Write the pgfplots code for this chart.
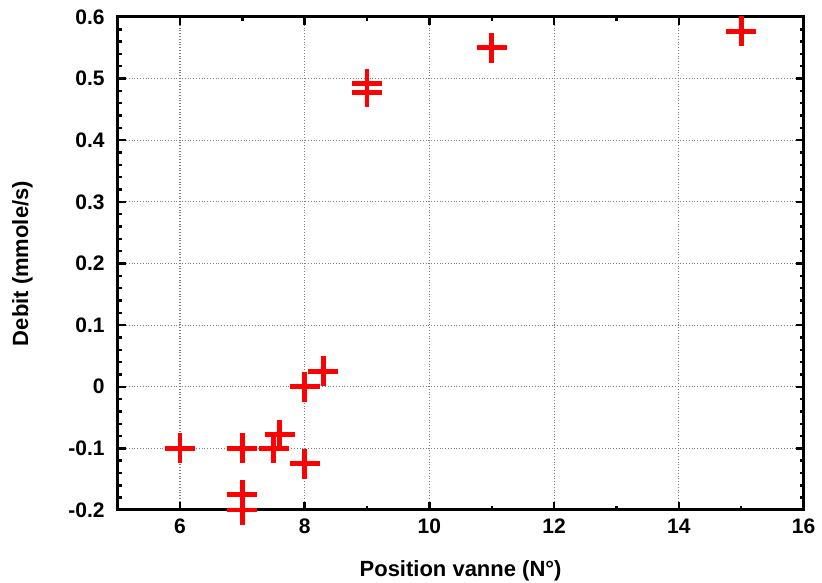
\documentclass[border=0pt]{standalone}
\usepackage{pgfplots}
\pgfplotsset{compat=1.18}
\usepackage{fontspec}
\setmainfont{Liberation Sans}
\begin{document}
\begin{tikzpicture}
\useasboundingbox (-58.8pt,-36pt) rectangle (352.2pt,255pt);
\begin{axis}[
  scale only axis,
  width=343pt, height=246.5pt,
  xmin=5, xmax=16, ymin=-0.2, ymax=0.6,
  xtick={6,8,...,16},
  ytick={-0.2,-0.1,...,0.6},
  yticklabels={-0.2,-0.1,0,0.1,0.2,0.3,0.4,0.5,0.6},
  minor x tick num=1,
  minor y tick num=4,
  tick align=inside,
  major tick length=4pt,
  minor tick length=2pt,
  tick style={black, line width=1.2pt},
  axis line style={black, line width=1.5pt},
  grid=major,
  grid style={gray, densely dotted, line width=0.6pt},
  /pgf/number format/assume math mode=true,
  ticklabel style={font=\fontsize{10.5}{12}\selectfont\bfseries},
  xticklabel style={yshift=-1pt},
  yticklabel style={xshift=-3pt},
  label style={font=\fontsize{11}{13}\selectfont\bfseries},
  xlabel={Position vanne (N°)},
  ylabel={Debit (mmole/s)},
  xlabel style={yshift=-6.5pt},
  ylabel style={yshift=11pt},
  clip=false,
]
\addplot[only marks, mark=+, red, mark size=7.5pt, line width=2.4pt] coordinates {
  (6,-0.1) (7,-0.1) (7,-0.175) (7,-0.2) (7.5,-0.1) (7.6,-0.078)
  (8,0) (8,-0.125) (8.3,0.025) (9,0.492) (9,0.478) (11,0.55) (15,0.577)
};
\end{axis}
\end{tikzpicture}
\end{document}
